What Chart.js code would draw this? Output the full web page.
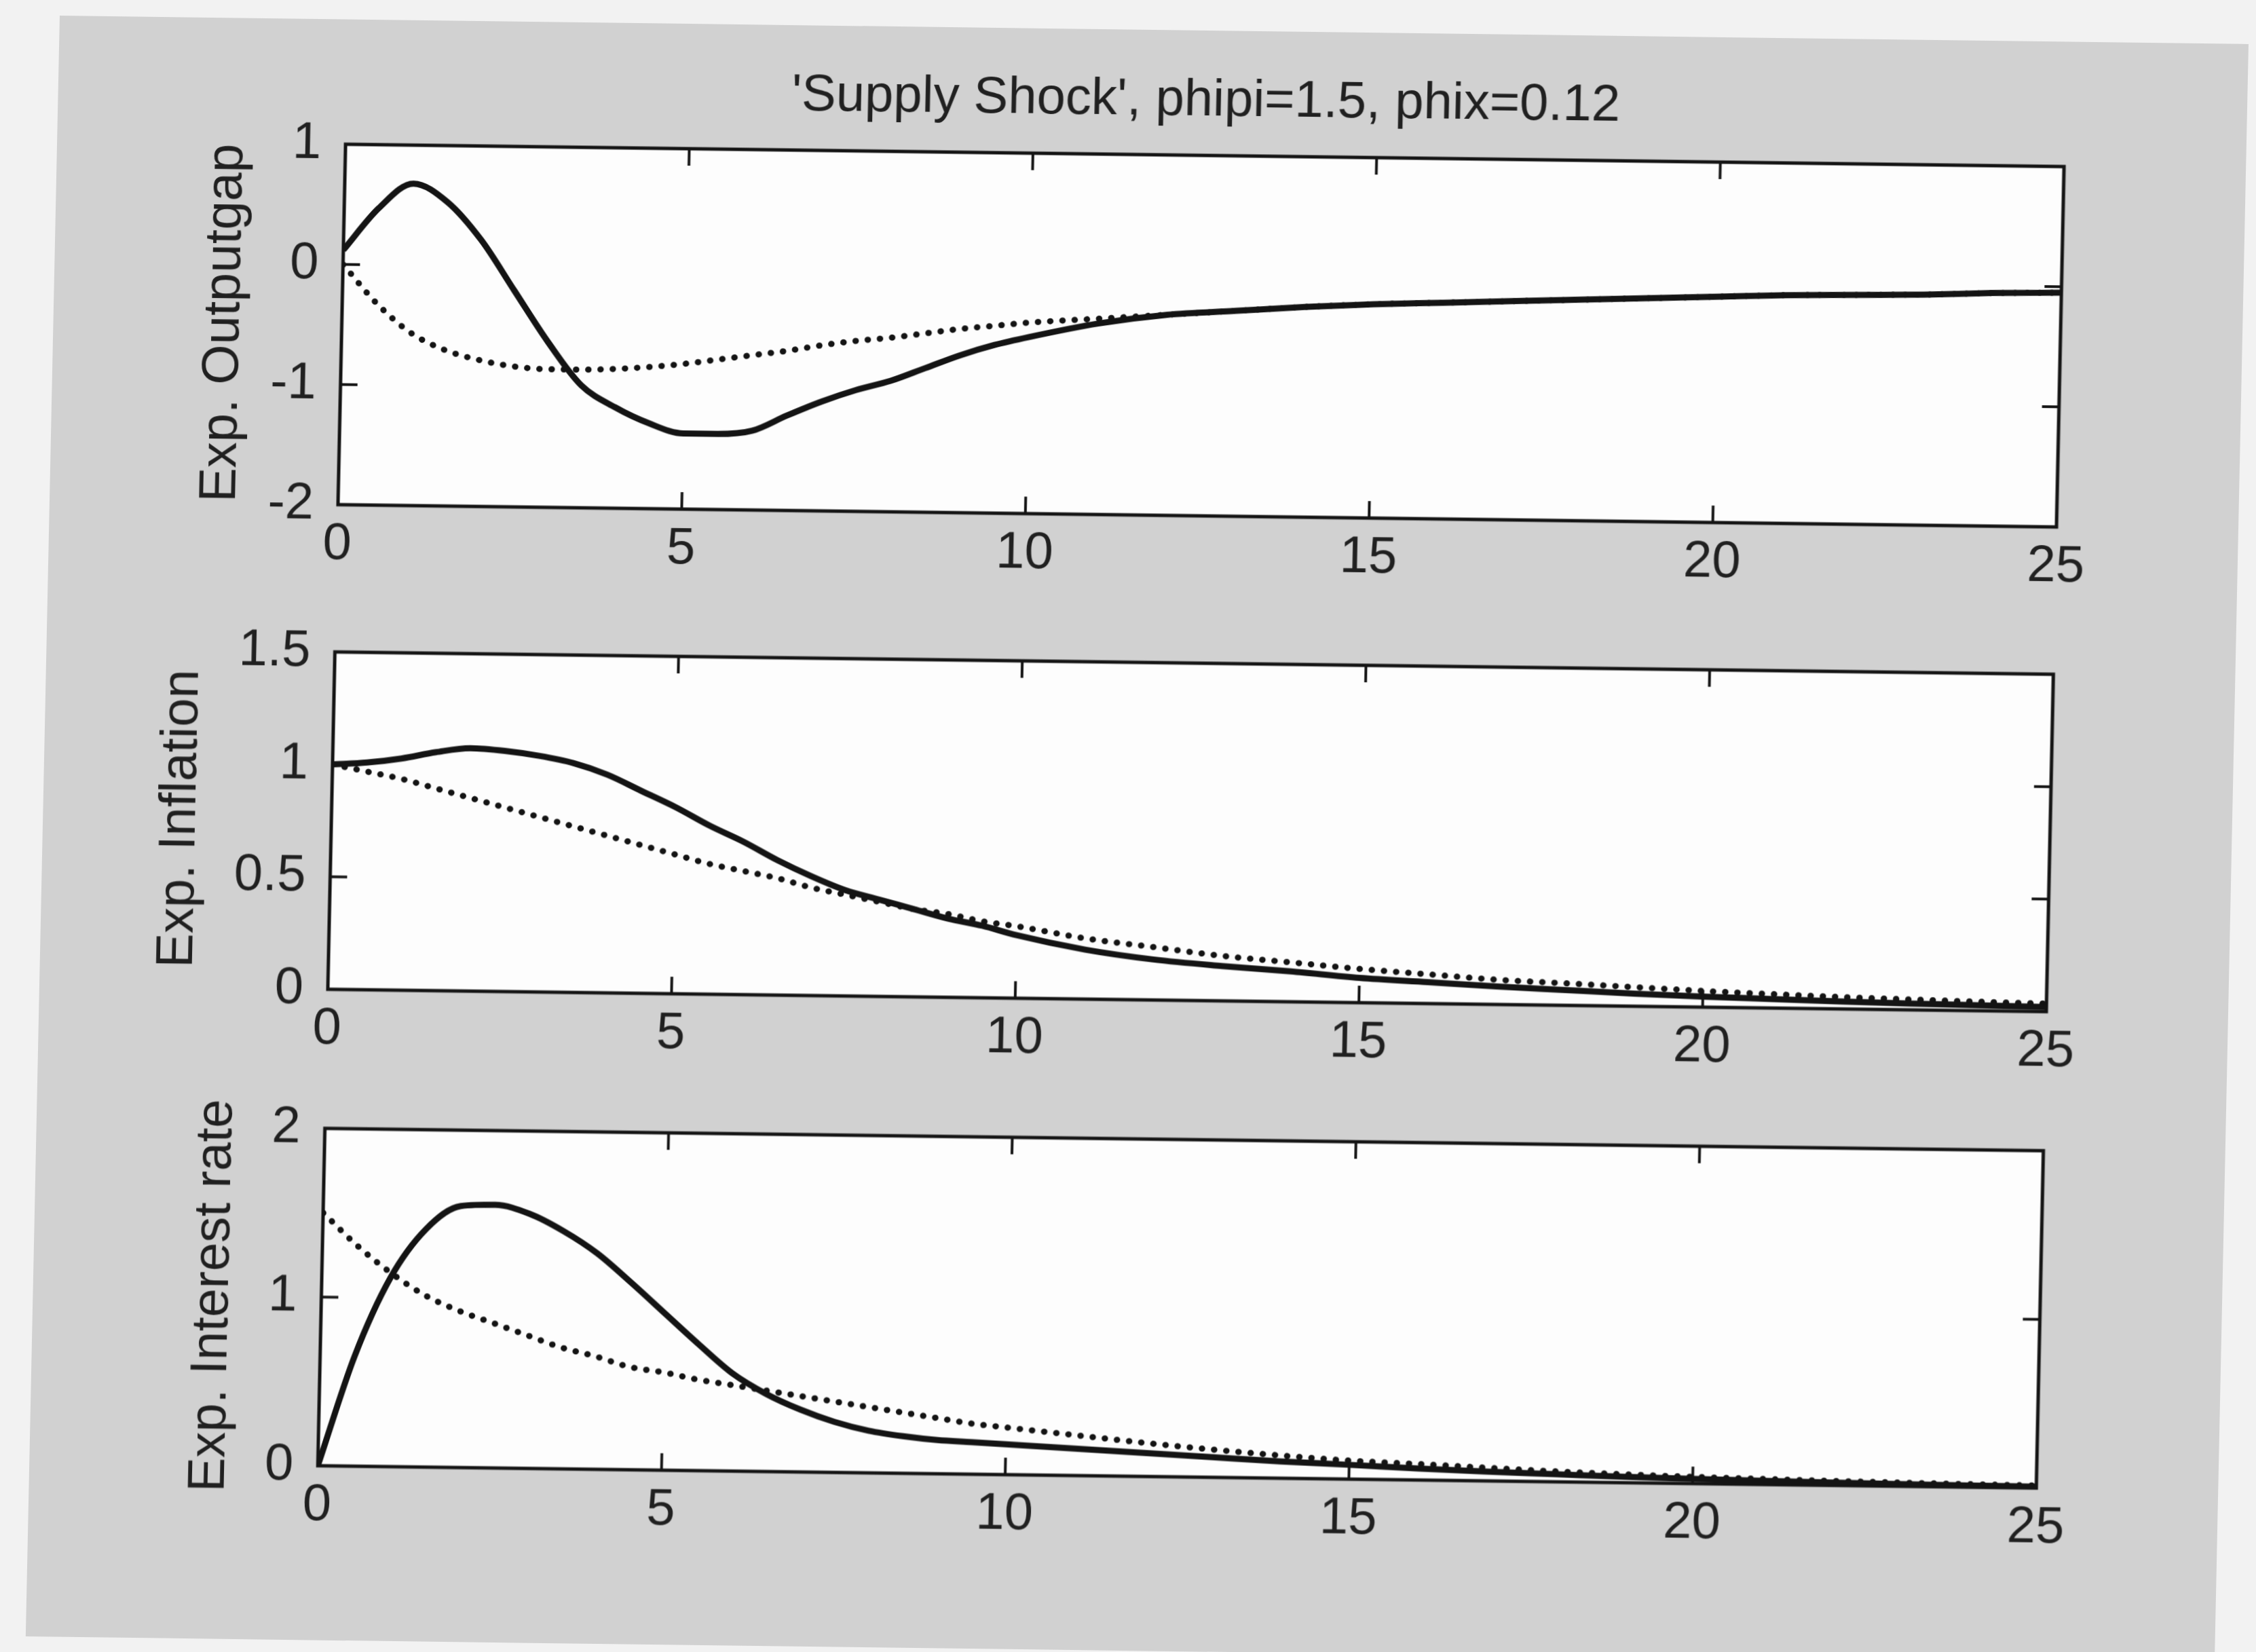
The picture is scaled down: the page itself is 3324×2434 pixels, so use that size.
<!DOCTYPE html>
<html>
<head>
<meta charset="utf-8">
<title>Supply Shock</title>
<script src="https://cdn.jsdelivr.net/npm/chart.js@4.4.1/dist/chart.umd.min.js"></script>
<style>
  html, body {
    margin: 0;
    padding: 0;
    width: 3324px;
    height: 2434px;
    overflow: hidden;
    background: #f2f2f2;
  }
  #figure {
    position: absolute;
    left: 88px;
    top: 23px;
    width: 3225px;
    height: 2388px;
    background: #d1d1d1;
    transform-origin: 0 0;
    transform: matrix(1, 0.013, -0.021, 1, 0, 0);
  }
  #figure canvas {
    position: absolute;
    left: 0;
  }
</style>
</head>
<body>
<div id="figure">
  <canvas id="outputgap"></canvas>
  <canvas id="inflation"></canvas>
  <canvas id="interest"></canvas>
</div>
<script>
// periods after the shock
const periods = [0, 0.5, 1, 1.5, 2, 2.5, 3, 3.5, 4, 4.5, 5, 5.5, 6, 6.5, 7, 7.5, 8, 8.5, 9, 9.5, 10,
  11, 12, 13, 14, 15, 16, 17, 18, 19, 20, 21, 22, 23, 24, 25];

const outputgapSolid = [0.12, 0.47, 0.68, 0.53, 0.22, -0.2, -0.62, -0.98, -1.16, -1.29, -1.37, -1.37, -1.34,
  -1.21, -1.09, -0.99, -0.91, -0.8, -0.69, -0.6, -0.53,
  -0.41, -0.33, -0.29, -0.25, -0.22, -0.2, -0.18, -0.16, -0.14, -0.12, -0.1, -0.09, -0.08, -0.06, -0.05];
const outputgapDotted = [0, -0.32, -0.56, -0.7, -0.78, -0.83, -0.85, -0.85, -0.84, -0.82, -0.79, -0.75, -0.71,
  -0.67, -0.62, -0.58, -0.55, -0.51, -0.47, -0.44, -0.41,
  -0.37, -0.33, -0.29, -0.25, -0.22, -0.2, -0.18, -0.16, -0.14, -0.12, -0.1, -0.09, -0.08, -0.06, -0.05];

const inflationSolid = [1, 1.01, 1.03, 1.06, 1.08, 1.07, 1.05, 1.02, 0.97, 0.9, 0.83, 0.75, 0.68,
  0.6, 0.53, 0.47, 0.43, 0.39, 0.35, 0.32, 0.28,
  0.22, 0.18, 0.155, 0.135, 0.11, 0.095, 0.08, 0.068, 0.056, 0.047, 0.04, 0.033, 0.028, 0.024, 0.02];
const inflationDotted = [1, 0.97, 0.94, 0.9, 0.86, 0.82, 0.78, 0.74, 0.7, 0.66, 0.62, 0.58, 0.55,
  0.52, 0.48, 0.45, 0.42, 0.39, 0.37, 0.34, 0.32,
  0.27, 0.235, 0.2, 0.175, 0.15, 0.13, 0.11, 0.098, 0.085, 0.072, 0.062, 0.053, 0.046, 0.04, 0.035];

const interestSolid = [0, 0.65, 1.12, 1.41, 1.55, 1.56, 1.51, 1.41, 1.28, 1.11, 0.93, 0.75, 0.58,
  0.46, 0.37, 0.3, 0.25, 0.22, 0.2, 0.19, 0.18,
  0.16, 0.14, 0.12, 0.1, 0.085, 0.068, 0.055, 0.045, 0.035, 0.028, 0.022, 0.017, 0.013, 0.01, 0.008];
const interestDotted = [1.5, 1.31, 1.15, 1.02, 0.93, 0.86, 0.79, 0.72, 0.67, 0.61, 0.58, 0.54, 0.51,
  0.48, 0.45, 0.42, 0.39, 0.36, 0.33, 0.3, 0.28,
  0.24, 0.2, 0.165, 0.135, 0.11, 0.095, 0.078, 0.062, 0.05, 0.04, 0.033, 0.027, 0.022, 0.018, 0.015];

const xTicks = [0, 5, 10, 15, 20, 25];
const outputgapTicks = [-2, -1, 0, 1];
const inflationTicks = [0, 0.5, 1, 1.5];
const interestTicks = [0, 1, 2];

const titleText = "'Supply Shock', phipi=1.5, phix=0.12";

const ink = "#141414";
const textColor = "#202020";
const font = { family: "'Liberation Sans', Arial, sans-serif", size: 76, weight: "normal", lineHeight: 1 };

// white axes box with inward ticks on all four sides
const boxPlugin = {
  id: "box",
  beforeDraw(chart) {
    const { ctx, chartArea: a } = chart;
    ctx.save();
    ctx.fillStyle = "#fdfdfd";
    ctx.fillRect(a.left, a.top, a.right - a.left, a.bottom - a.top);
    ctx.restore();
  },
  afterDraw(chart) {
    const { ctx, chartArea: a, scales } = chart;
    const len = 25;
    ctx.save();
    ctx.strokeStyle = ink;
    ctx.lineWidth = 4;
    ctx.beginPath();
    scales.x.ticks.forEach((t) => {
      const px = scales.x.getPixelForValue(t.value);
      ctx.moveTo(px, a.bottom);
      ctx.lineTo(px, a.bottom - len);
      ctx.moveTo(px, a.top);
      ctx.lineTo(px, a.top + len);
    });
    scales.y.ticks.forEach((t) => {
      const py = scales.y.getPixelForValue(t.value);
      ctx.moveTo(a.left, py);
      ctx.lineTo(a.left + len, py);
      ctx.moveTo(a.right, py);
      ctx.lineTo(a.right - len, py);
    });
    ctx.stroke();
    ctx.lineWidth = 5;
    ctx.strokeRect(a.left, a.top, a.right - a.left, a.bottom - a.top);
    ctx.restore();
  },
};

function makePanel(id, p) {
  const canvas = document.getElementById(id);
  const top = p.areaTop - p.headRoom;
  const height = p.headRoom + p.areaHeight + 130;
  canvas.width = 3225;
  canvas.height = height;
  canvas.style.top = top + "px";

  const points = (ys) => periods.map((x, i) => ({ x: x, y: ys[i] }));

  return new Chart(canvas.getContext("2d"), {
    type: "line",
    data: {
      datasets: [
        {
          data: points(p.solid),
          borderColor: ink,
          borderWidth: 9,
          pointRadius: 0,
          cubicInterpolationMode: "monotone",
        },
        {
          data: points(p.dotted),
          borderColor: ink,
          borderWidth: 9,
          borderDash: [0.5, 17.5],
          borderCapStyle: "round",
          pointRadius: 0,
          cubicInterpolationMode: "monotone",
        },
      ],
    },
    options: {
      responsive: false,
      animation: false,
      devicePixelRatio: 1,
      layout: { padding: { left: 0, right: 268, top: p.title ? 0 : p.headRoom, bottom: 0 } },
      plugins: {
        legend: { display: false },
        tooltip: { enabled: false },
        title: {
          display: !!p.title,
          text: p.title || "",
          font: font,
          color: textColor,
          fullSize: false,
          padding: { top: 20, bottom: 42 },
        },
      },
      scales: {
        x: {
          type: "linear",
          min: 0,
          max: 25,
          afterBuildTicks: (s) => { s.ticks = xTicks.map((v) => ({ value: v })); },
          afterFit: (s) => { s.height = 130; },
          grid: { display: false, drawTicks: false },
          border: { display: false },
          ticks: { font: font, color: textColor, padding: 21, maxRotation: 0, autoSkip: false },
        },
        y: {
          type: "linear",
          min: p.ticks[0],
          max: p.ticks[p.ticks.length - 1],
          afterBuildTicks: (s) => { s.ticks = p.ticks.map((v) => ({ value: v })); },
          afterFit: (s) => { s.width = 425; },
          grid: { display: false, drawTicks: false },
          border: { display: false },
          ticks: { font: font, color: textColor, padding: 36, callback: (v) => String(v) },
          title: {
            display: true,
            text: p.label,
            font: font,
            color: textColor,
            padding: { top: p.labelOffset, bottom: 0 },
          },
        },
      },
    },
    plugins: [boxPlugin],
  });
}

makePanel("outputgap", {
  areaTop: 184, areaHeight: 531, headRoom: 138, title: titleText,
  solid: outputgapSolid, dotted: outputgapDotted, ticks: outputgapTicks,
  label: "Exp. Outputgap", labelOffset: 214,
});
makePanel("inflation", {
  areaTop: 898, areaHeight: 531, headRoom: 40,
  solid: inflationSolid, dotted: inflationDotted, ticks: inflationTicks,
  label: "Exp. Inflation", labelOffset: 165,
});
makePanel("interest", {
  areaTop: 1600, areaHeight: 531, headRoom: 40,
  solid: interestSolid, dotted: interestDotted, ticks: interestTicks,
  label: "Exp. Interest rate", labelOffset: 228,
});
</script>
</body>
</html>
